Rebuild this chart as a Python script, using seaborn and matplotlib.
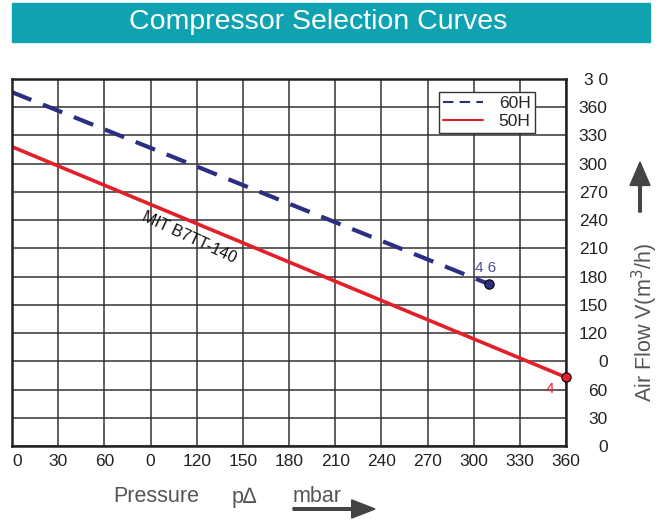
import pandas as pd
import seaborn as sns
import matplotlib.pyplot as plt
from matplotlib.patches import Rectangle, FancyArrow

# end points of the two selection curves
pressure_60 = [0, 310]
flow_60 = [376, 172]
pressure_50 = [0, 360]
flow_50 = [318, 73]

x_ticks = [0, 30, 60, 90, 120, 150, 180, 210, 240, 270, 300, 330, 360]
x_labels = ["0", "30", "60", "0", "120", "150", "180", "210", "240", "270", "300", "330", "360"]
y_ticks = [0, 30, 60, 90, 120, 150, 180, 210, 240, 270, 300, 330, 360, 390]
y_labels = ["0", "30", "60", "0", "120", "150", "180", "210", "240", "270", "300", "330", "360", "3 0"]

navy = "#2b2f82"
red = "#e3202a"

df = pd.DataFrame({
    "p": pressure_60 + pressure_50,
    "v": flow_60 + flow_50,
    "curve": ["60H"] * 2 + ["50H"] * 2,
})

sns.set_style("white")
plt.rcParams["font.family"] = ["Liberation Sans", "DejaVu Sans"]

fig = plt.figure(figsize=(6.67, 5.21), dpi=100)
ax = fig.add_axes([12 / 667, 1 - 446 / 521, 554 / 667, 367 / 521])

sns.lineplot(data=df, x="p", y="v", hue="curve", style="curve",
             palette={"60H": navy, "50H": red},
             dashes={"60H": (5, 3), "50H": ""},
             linewidth=2.6, ax=ax, legend=True)
ax.lines[0].set_linewidth(3.0)

# end markers
ax.scatter([pressure_60[-1]], [flow_60[-1]], s=45, color=navy, edgecolor="black", linewidth=0.8, zorder=5, clip_on=False)
ax.scatter([pressure_50[-1]], [flow_50[-1]], s=45, color=red, edgecolor="black", linewidth=0.8, zorder=5, clip_on=False)

ax.text(pressure_60[-1] - 2, flow_60[-1] + 10, "4 6", color="#4a4f9c", fontsize=11, ha="center", va="bottom")
ax.text(pressure_50[-1] - 8, flow_50[-1] - 5, "4", color=red, fontsize=11, ha="right", va="top")
ax.text(115, 222, "MIT B7TT-140", rotation=-25, fontsize=11.5, color="#111111", ha="center", va="center",
        rotation_mode="anchor")

ax.set_xlim(0, 360)
ax.set_ylim(0, 390)
ax.set_xticks(x_ticks)
ax.set_xticklabels(x_labels)
ax.set_yticks(y_ticks)
ax.set_yticklabels(y_labels)
ax.yaxis.tick_right()
ax.tick_params(axis="both", length=0, labelsize=12.5, colors="#222222")
ax.tick_params(axis="y", pad=30)
ax.tick_params(axis="x", pad=6)
for lab in ax.get_yticklabels():
    lab.set_horizontalalignment("right")
ax.get_xticklabels()[0].set_horizontalalignment("left")
ax.grid(True, color="#333333", linewidth=1.1)
for s in ax.spines.values():
    s.set_visible(True)
    s.set_color("#222222")
    s.set_linewidth(1.8)
ax.set_xlabel("")
ax.set_ylabel("")

leg = ax.legend(loc="upper right", bbox_to_anchor=(0.944, 0.965), fontsize=12.5, frameon=True,
                fancybox=False, edgecolor="#333333", framealpha=1, handlelength=2.3,
                borderpad=0.25, labelspacing=0.15, borderaxespad=0, handletextpad=0.9)
leg.get_frame().set_linewidth(1.0)
for h in leg.get_lines():
    h.set_linewidth(1.5)

# title banner
fig.patches.append(Rectangle((12 / 667, 1 - 42 / 521), 638 / 667, 39 / 521,
                             transform=fig.transFigure, color="#0fa3b2", zorder=0))
fig.text(318 / 667, 1 - 22 / 521, "Compressor Selection Curves", color="white", fontsize=20.5,
         ha="center", va="center")

# axis titles with arrows
fig.text(645 / 667, 1 - 322 / 521, "Air Flow V(m$^3$/h)", rotation=90, color="#555555",
         fontsize=15.5, ha="center", va="center")
fig.patches.append(FancyArrow(640 / 667, 1 - 212 / 521, 0, 50 / 521, width=0.004,
                              head_width=0.03, head_length=0.045, length_includes_head=True,
                              color="#444444", transform=fig.transFigure))
fig.text(113 / 667, 1 - 497 / 521, "Pressure", color="#555555", fontsize=15.5, ha="left", va="center")
fig.text(232 / 667, 1 - 497 / 521, "p\u2206", color="#555555", fontsize=15.5, ha="left", va="center")
fig.text(293 / 667, 1 - 497 / 521, "mbar", color="#555555", fontsize=15.5, ha="left", va="center")
fig.patches.append(FancyArrow(293 / 667, 1 - 509 / 521, 82 / 667, 0, width=0.005,
                              head_width=0.035, head_length=0.035, length_includes_head=True,
                              color="#444444", transform=fig.transFigure))

fig.savefig("out.png", dpi=100)
